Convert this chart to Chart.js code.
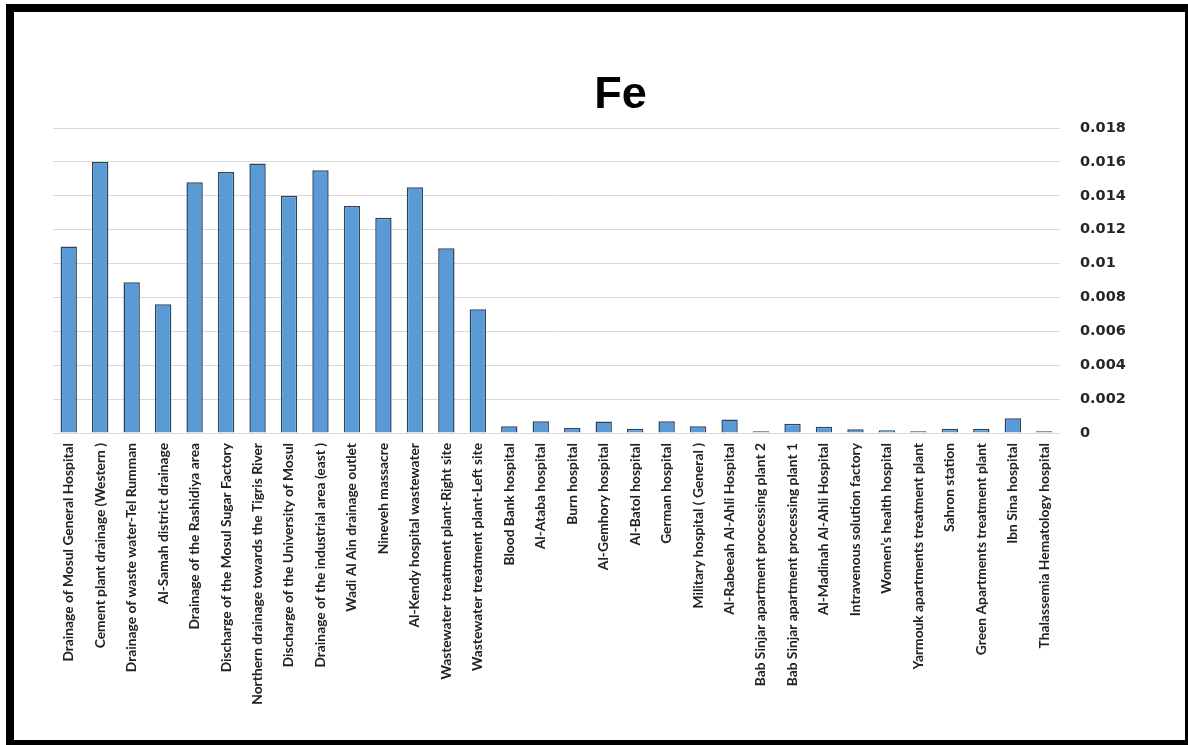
<!DOCTYPE html>
<html>
<head>
<meta charset="utf-8">
<script src="https://cdn.jsdelivr.net/npm/chart.js@4"></script>
<style>
    html, body { margin: 0; padding: 0; background: #fff; overflow: hidden; }
    #wrap { position: relative; width: 1188px; height: 745px; }
    #chart { position: absolute; left: 0; top: 0; }
    #frame {
        position: absolute; left: 6px; top: 4px; width: 1187px; height: 744px;
        box-sizing: border-box; border: 8px solid #000; pointer-events: none;
    }
</style>
</head>
<body>
<div id="wrap">
    <canvas id="chart" width="1188" height="745"></canvas>
    <div id="frame"></div>
</div>
<script>
// ==================== DATA ====================
const sites = [
    'Drainage of Mosul General Hospital',
    'Cement plant drainage (Western )',
    'Drainage of waste water-Tel Rumman',
    'Al-Samah district drainage',
    'Drainage of the Rashidiya area',
    'Discharge of the Mosul Sugar Factory',
    'Northern drainage towards the Tigris River',
    'Discharge of the University of Mosul',
    'Drainage of the industrial area (east )',
    'Wadi Al Ain drainage outlet',
    'Nineveh massacre',
    'Al-Kendy hospital wastewater',
    'Wastewater treatment plant-Right site',
    'Wastewater treatment plant-Left site',
    'Blood Bank hospital',
    'Al-Ataba hospital',
    'Burn hospital',
    'Al-Gemhory hospital',
    'Al-Batol hospital',
    'German hospital',
    'Military hospital ( General )',
    'Al-Rabeeah Al-Ahli Hospital',
    'Bab Sinjar apartment processing plant 2',
    'Bab Sinjar apartment processing plant 1',
    'Al-Madinah Al-Ahli Hospital',
    'Intravenous solution factory',
    'Women\u2019s health hospital',
    'Yarmouk apartments treatment plant',
    'Sahron station',
    'Green Apartments treatment plant',
    'Ibn Sina hospital',
    'Thalassemia Hematology hospital'
];

const feValues = [
    0.0110, 0.0160, 0.0089, 0.0076, 0.0148, 0.0154, 0.0159, 0.0140,
    0.0155, 0.0134, 0.0127, 0.0145, 0.0109, 0.0073,
    0.0004, 0.0007, 0.0003, 0.00068, 0.00025, 0.0007, 0.0004, 0.0008,
    0.0001, 0.00055, 0.00037, 0.00022, 0.00016, 0.0001, 0.00025,
    0.00025, 0.00087, 0.0001
];

const yTickValues = [0, 0.002, 0.004, 0.006, 0.008, 0.01, 0.012, 0.014, 0.016, 0.018];

// ==================== CHART ====================
const ctx = document.getElementById('chart');
new Chart(ctx, {
    type: 'bar',
    data: {
        labels: sites,
        datasets: [{
            label: 'Fe',
            data: feValues,
            backgroundColor: '#5b9bd5',
            borderColor: '#2b4463',
            borderWidth: 1.5,
            barPercentage: 0.52,
            categoryPercentage: 1
        }]
    },
    options: {
        responsive: false,
        animation: false,
        layout: { padding: { left: 53, right: 0, top: 0, bottom: 0 } },
        plugins: {
            legend: { display: false },
            tooltip: { enabled: false },
            title: {
                display: true,
                text: 'Fe',
                color: '#000',
                font: { family: 'Liberation Sans', size: 45, weight: 'bold' },
                padding: { top: 69, bottom: 5 }
            }
        },
        scales: {
            x: {
                grid: { display: false, drawTicks: false },
                border: { display: false },
                ticks: {
                    autoSkip: false,
                    maxRotation: 90,
                    minRotation: 90,
                    padding: 10,
                    color: '#222',
                    font: { family: 'Lato', size: 13.8, weight: 'bold' }
                },
                afterFit: s => { s.height = 312; }
            },
            y: {
                position: 'right',
                min: 0,
                max: 0.018,
                grid: { color: '#d9d9d9', lineWidth: 1, drawTicks: false },
                border: { display: false },
                afterBuildTicks: s => { s.ticks = yTickValues.map(v => ({ value: v })); },
                ticks: {
                    padding: 20,
                    color: '#262626',
                    font: { family: 'DejaVu Sans', size: 14.5, weight: 'bold' },
                    callback: v => String(+v.toFixed(3))
                },
                afterFit: s => { s.width = 128; }
            }
        }
    }
});
</script>
</body>
</html>
